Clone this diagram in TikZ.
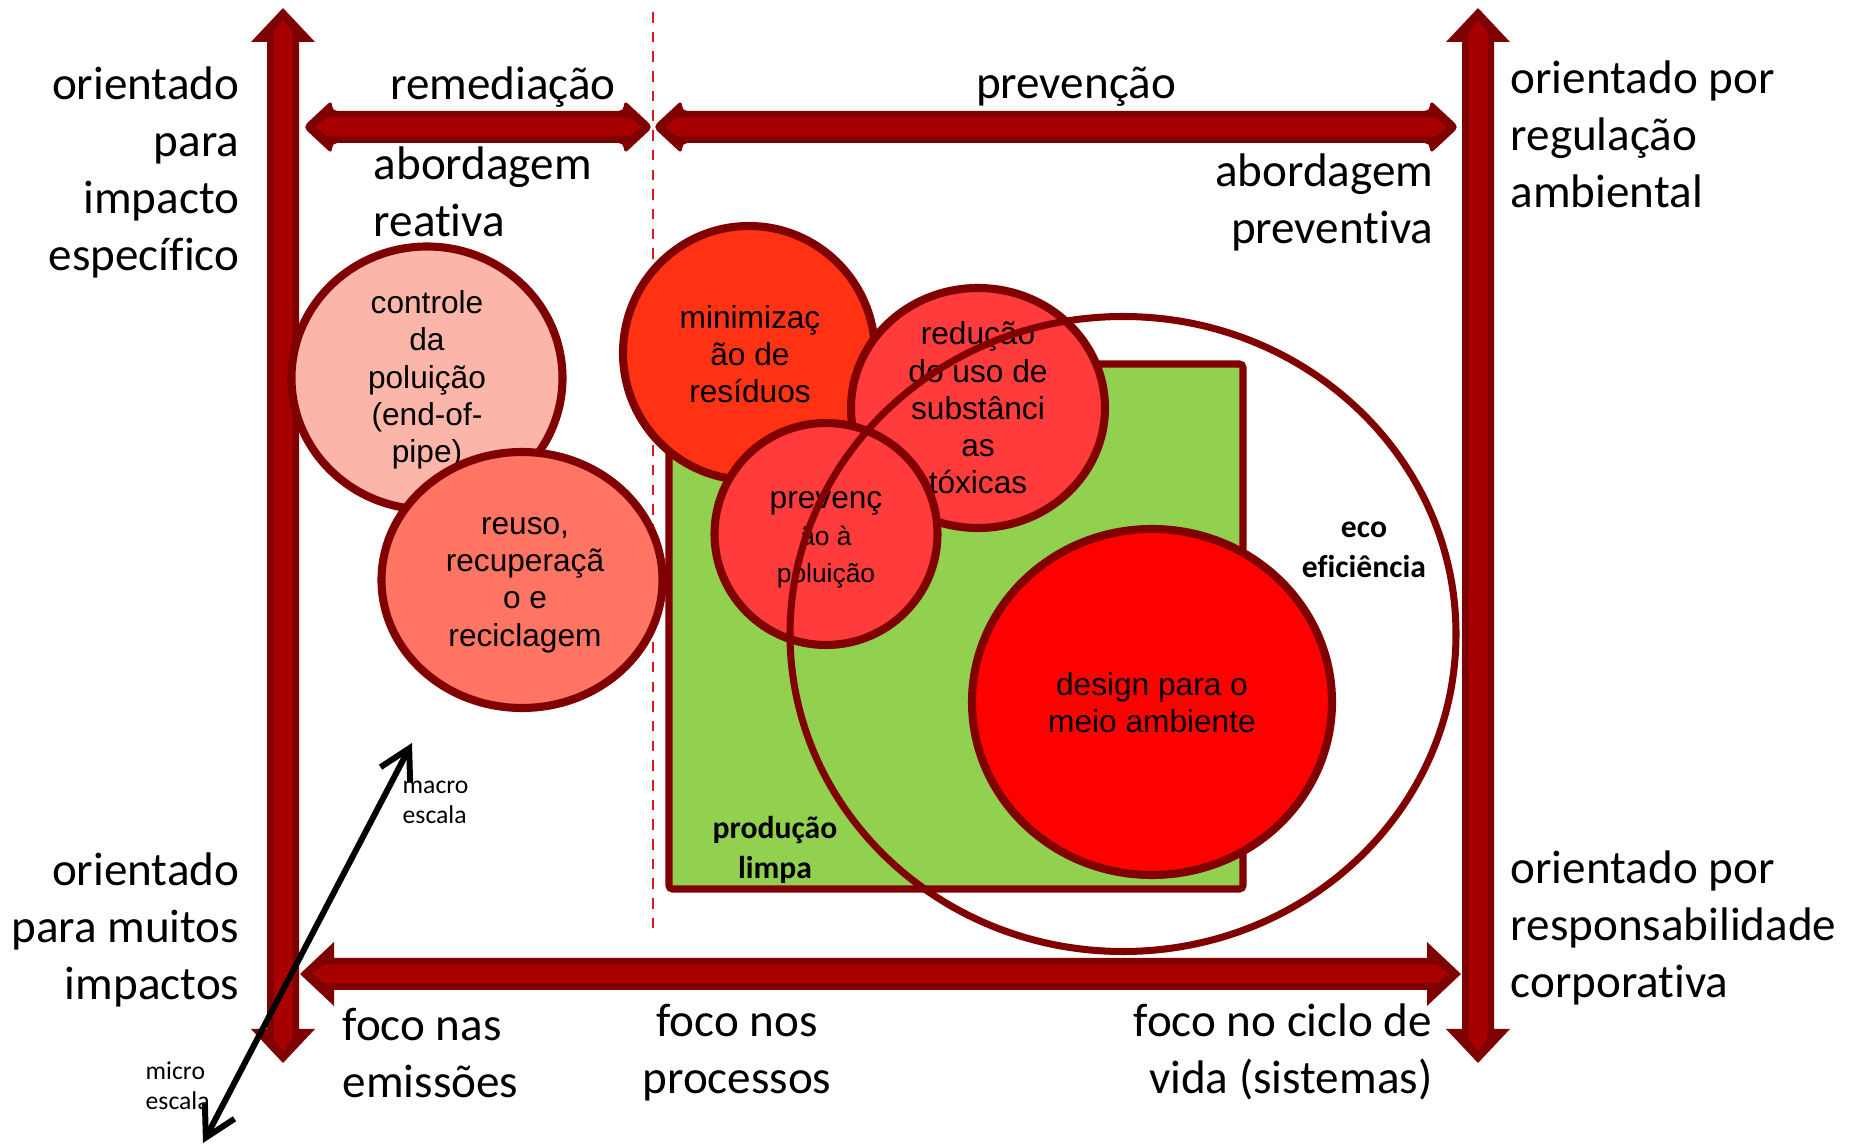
\documentclass[tikz,border=0pt]{standalone}
\usepackage{fontspec}
\setmainfont[Ligatures=NoCommon]{Carlito}
\newfontfamily\arialfont{Liberation Sans}
\usetikzlibrary{arrows.meta}

\definecolor{arrowdark}{RGB}{127,0,0}
\definecolor{arrowred}{RGB}{168,0,0}
\definecolor{rimred}{RGB}{128,0,0}
\definecolor{pinkfill}{RGB}{251,181,169}
\definecolor{salmonfill}{RGB}{255,116,98}
\definecolor{orangefill}{RGB}{255,50,20}
\definecolor{redfill}{RGB}{255,59,59}
\definecolor{limegreen}{RGB}{146,208,80}
\definecolor{dashred}{RGB}{222,24,32}

% double headed block arrow: [style]{x}{y}{length}{angle}{head}
\newcommand{\bararrow}[6][]{%
  \begin{scope}[shift={(#2,#3)}, rotate=#5]
    \fill[arrowdark, #1] (0,0) -- (#6+2,-#6) -- (#6+2,-16) -- (#4-#6-2,-16) -- (#4-#6-2,-#6) -- (#4,0)
      -- (#4-#6-2,#6) -- (#4-#6-2,16) -- (#6+2,16) -- (#6+2,#6) -- cycle;
    \fill[arrowred] (12,0) -- (24,-9.5) -- (#4-24,-9.5) -- (#4-12,0) -- (#4-24,9.5) -- (24,9.5) -- cycle;
  \end{scope}}
\newcommand{\smallbub}{\fontsize{7.5}{10.6}\selectfont}

\tikzset{
  bubble/.style={draw=rimred, line width=2.3pt},
  bubbletext/.style={inner sep=0pt, align=center, font=\arialfont\fontsize{9}{10.6}\selectfont},
  bigtext/.style={inner sep=0pt, font=\fontsize{13.4}{16.2}\selectfont},
  boldtext/.style={inner sep=0pt, align=center, font=\bfseries\fontsize{9}{11.3}\selectfont},
  tinytext/.style={inner sep=0pt, align=left, font=\fontsize{7.3}{8.6}\selectfont},
  scalearrow/.style={line width=1.7pt, line cap=round, line join=round,
    {Straight Barb[length=8.5pt,width=9.5pt]}-{Straight Barb[length=8.5pt,width=9.5pt]}}
}

\begin{document}
\begin{tikzpicture}[x=0.01cm, y=-0.01cm]

\useasboundingbox (0,0) rectangle (1850,1146);

\coordinate (divtop) at (653,12);
\coordinate (divbot) at (653,935);
\path[draw=dashred, line width=0.7pt, dash pattern=on 3pt off 2.6pt] (divtop) -- (divbot);

% axes
\bararrow{283}{1063}{1055}{90}{32}
\bararrow{1478}{1063}{1055}{90}{32}
\bararrow{300}{974}{1161}{0}{32}
\bararrow[rounded corners=1.5pt]{303}{127}{350}{0}{27}
\bararrow[rounded corners=1.5pt]{653}{127}{806}{0}{27}

\node[bigtext, anchor=east, align=right] (specific) at (240,172) {orientado\\para\\impacto\\específico};
\node[bigtext, anchor=east, align=right] (many) at (240,930) {orientado\\para muitos\\impactos};
\node[bigtext, anchor=west, align=left] (regul) at (1510,134) {orientado por\\regulação\\ambiental};
\node[bigtext, anchor=west, align=left] (corp) at (1510,928) {orientado por\\responsabilidade\\corporativa};
\node[bigtext] (remed) at (503,87) {remediação};
\node[bigtext] (prevt) at (1076,87) {prevenção};
\node[bigtext, anchor=west, align=left] (reactive) at (373,192) {abordagem\\reativa};
\node[bigtext, anchor=east, align=right] (preventive) at (1434,202) {abordagem\\preventiva};
\node[bigtext, anchor=west, align=left] (emis) at (342,1053) {foco nas\\emissões};
\node[bigtext, align=center] (proc) at (737,1053) {foco nos\\processos};
\node[bigtext, anchor=east, align=right] (life) at (1433,1052) {foco no ciclo de\\vida (sistemas)};

\path[draw=rimred, fill=limegreen, line width=2pt, rounded corners=1pt] (669,364) rectangle (1243,889);

\path[bubble, fill=pinkfill] (427,378) ellipse [x radius=135.5, y radius=131.5];
\node[bubbletext] (ctrl) at (427,380) {controle\\da\\poluição\\(end-of-\\pipe)};
\path[bubble, fill=salmonfill] (522,580) ellipse [x radius=140.5, y radius=128];
\node[bubbletext] (reuse) at (525,585) {reuso,\\recuperaçã\\o e\\reciclagem};

\path[bubble, fill=orangefill] (749,353) ellipse [x radius=126, y radius=127];
\node[bubbletext] (minim) at (750,354) {minimizaç\\ão de\\resíduos};
\path[bubble, fill=redfill] (978,408) ellipse [x radius=127, y radius=120];
\node[bubbletext] (reduc) at (978,408) {redução\\do uso de\\substânci\\as\\tóxicas};
\path[bubble, fill=redfill] (826,534) ellipse [x radius=111.5, y radius=111];
\node[bubbletext] (prevn) at (826,540) {prevenç\\{\smallbub ão à}\\{\smallbub poluição}};
\path[bubble, fill=red] (1152,702) ellipse [x radius=180, y radius=173];
\node[bubbletext] (dfe) at (1152,703) {design para o\\meio ambiente};

\path[draw=rimred, line width=2pt] (1123,634) ellipse [x radius=333, y radius=317.5];

\node[boldtext] (ecoef) at (1364,550) {eco\\eficiência};
\node[boldtext] (clean) at (775,850) {produção\\limpa};

\coordinate (micro) at (203,1143);
\coordinate (macro) at (412,743);
\draw[scalearrow] (micro) -- (macro);
\node[tinytext, anchor=west] (macrolbl) at (402,802) {macro\\escala};
\node[tinytext, anchor=west] (microlbl) at (145,1086) {micro\\escala};

\end{tikzpicture}
\end{document}
